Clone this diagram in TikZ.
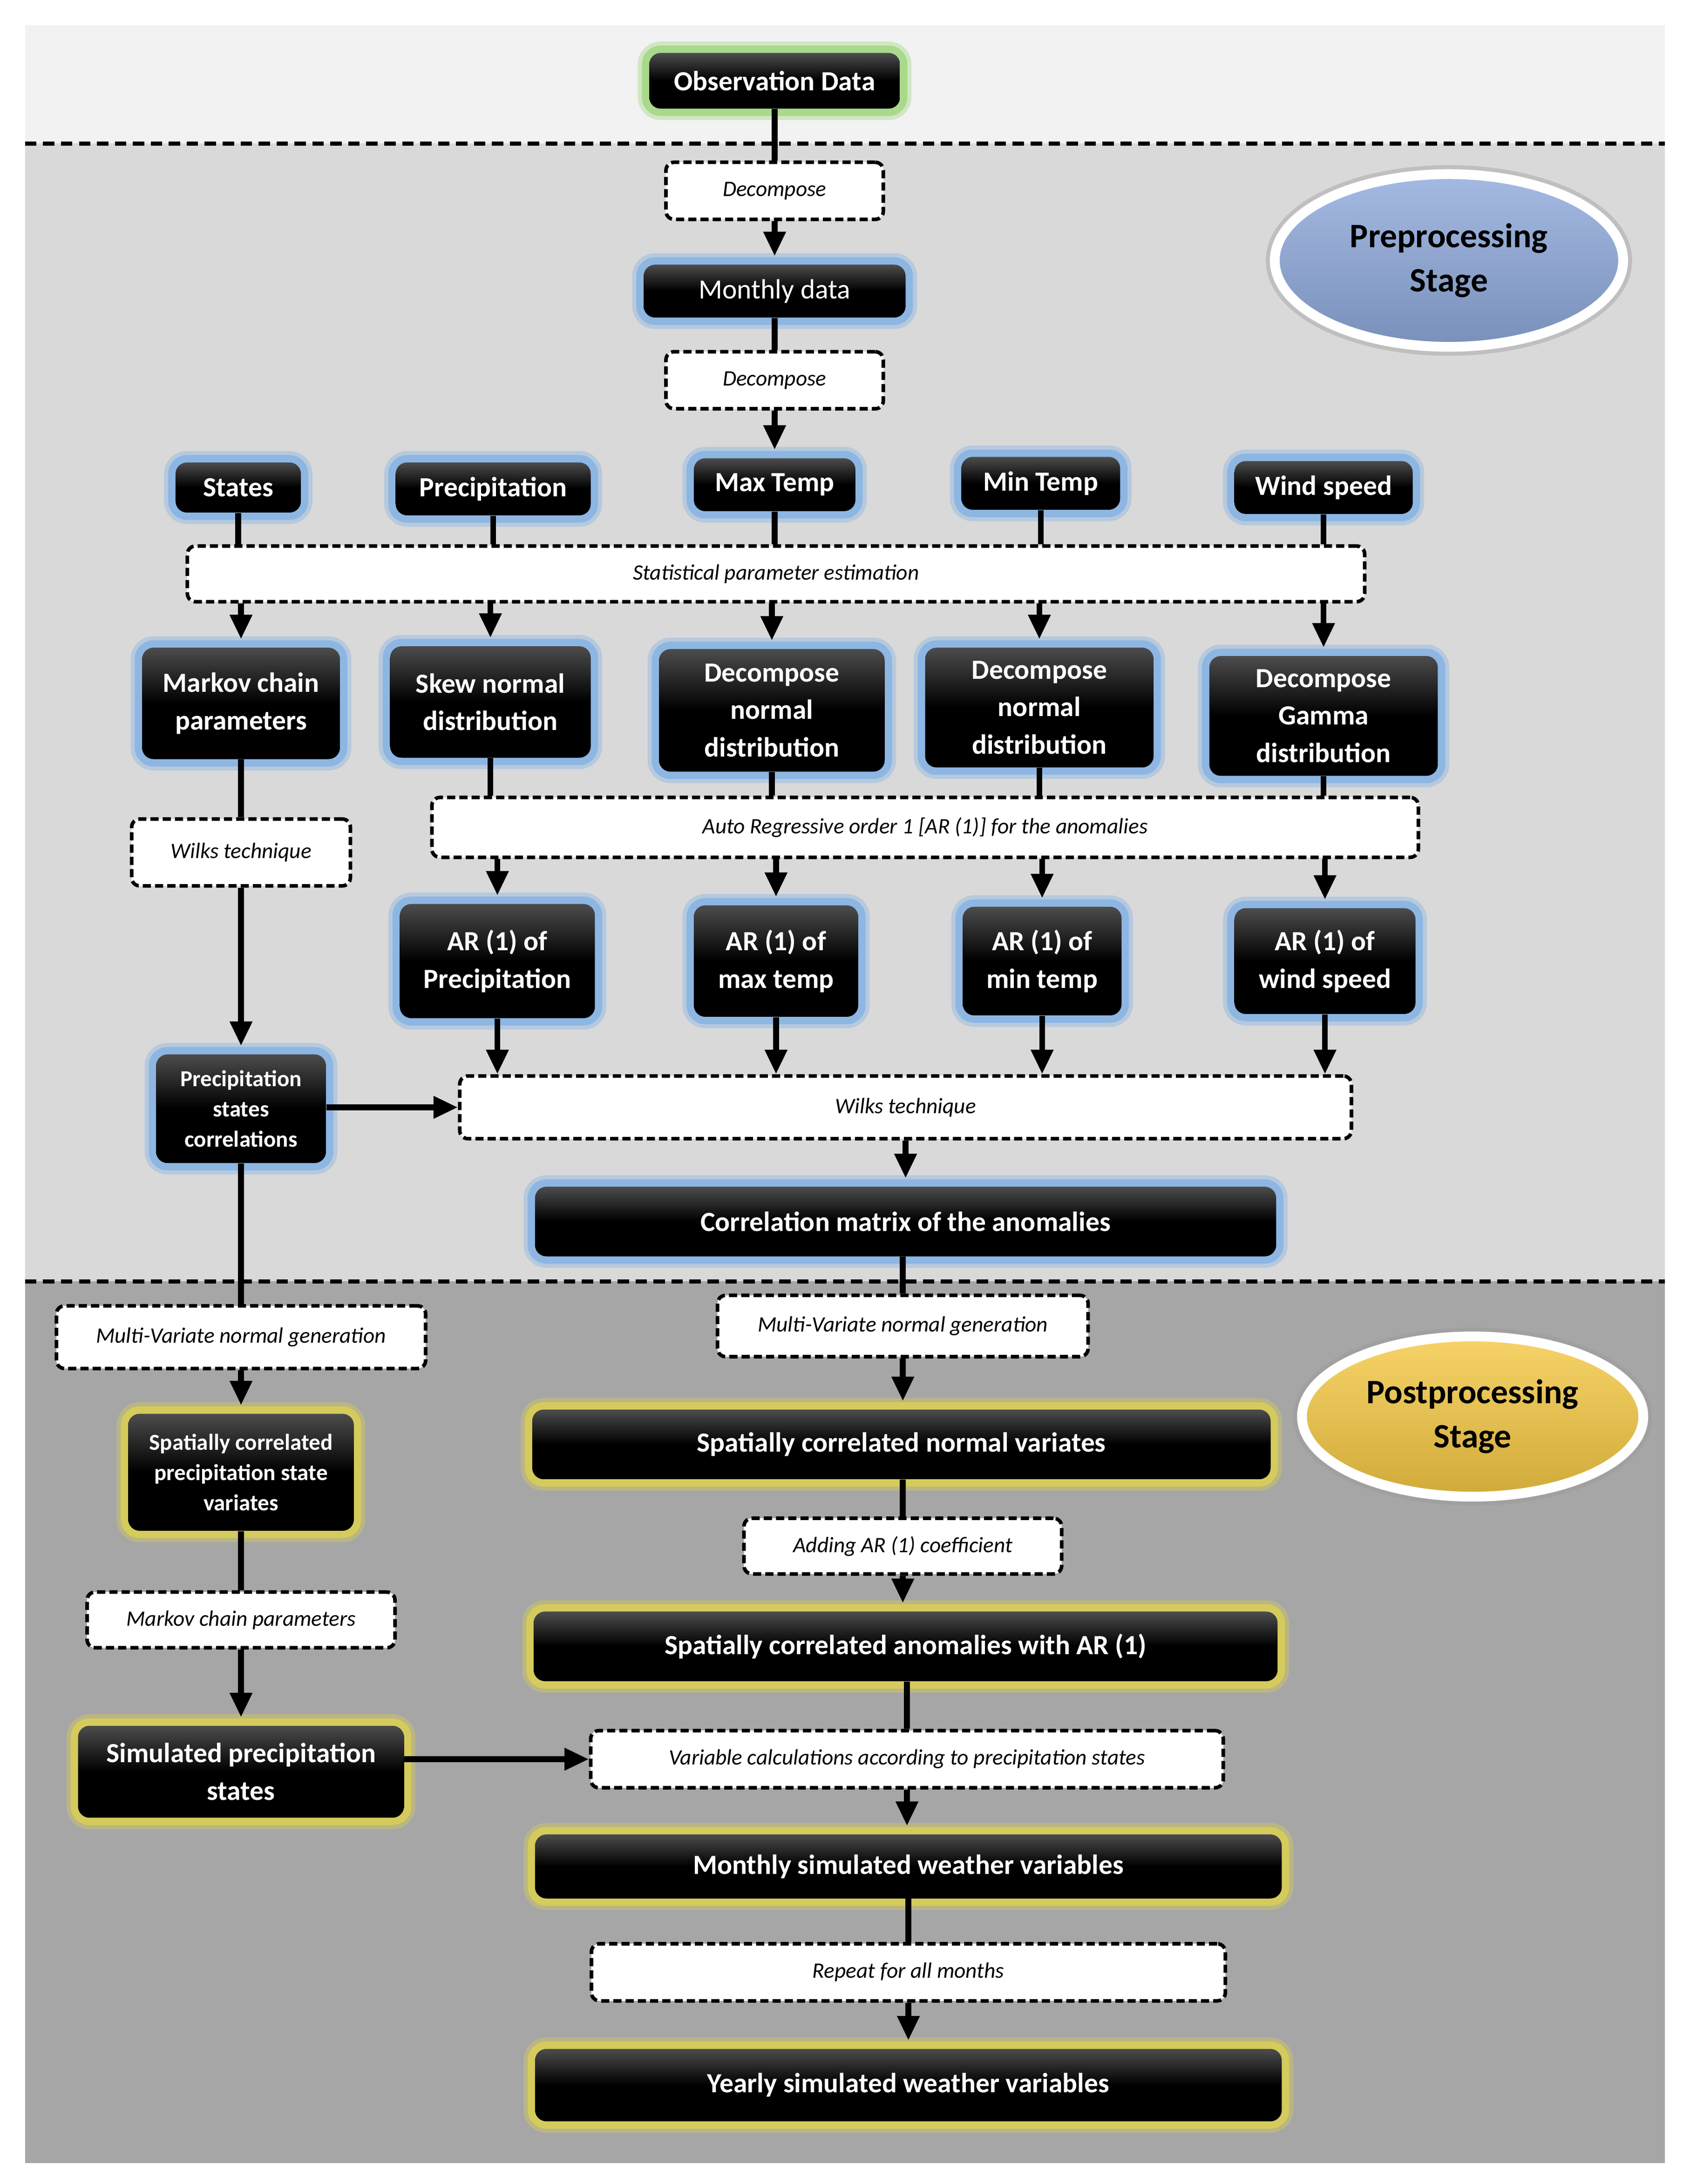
\documentclass[tikz,border=0pt]{standalone}
\usepackage{fontspec}
\setmainfont{Carlito}
\usetikzlibrary{arrows.meta,shapes.geometric}
\definecolor{halogreen}{HTML}{A9D98A}
\definecolor{haloblue}{HTML}{8DB6E3}
\definecolor{haloyellow}{HTML}{D4CB5C}
\definecolor{topband}{HTML}{F2F2F2}
\definecolor{preband}{HTML}{D9D9D9}
\definecolor{postband}{HTML}{A6A6A6}
\definecolor{prefill}{HTML}{8EA9DB}
\definecolor{postfill}{HTML}{F5C843}
\begin{document}
\begin{tikzpicture}[x=0.03cm, y=-0.03cm,
    halo/.style={preaction={draw=#1, line width=14pt, opacity=0.45}, preaction={draw=#1, line width=9pt}},
    datanode/.style={rectangle, rounded corners=7pt, inner sep=0pt, text=white, align=center,
        font=\fontsize{17}{23}\selectfont\bfseries, top color=black!70, bottom color=black, middle color=black},
    smalldata/.style={datanode, font=\fontsize{14}{18.5}\selectfont\bfseries},
    method/.style={rectangle, rounded corners=5pt, draw, fill=white, line width=2.2pt,
        dash pattern=on 5pt off 2.5pt, inner sep=0pt, font=\fontsize{13.5}{16}\selectfont\itshape},
    stageoval/.style={ellipse, draw=white, line width=6pt, inner sep=0pt, align=center,
        font=\fontsize{21}{27}\selectfont\bfseries, preaction={draw=black!40, line width=11pt, opacity=0.4}},
    link/.style={line width=3.6pt},
    flow/.style={line width=3.6pt, -{Triangle[length=15pt,width=13pt]}, shorten >=5pt}]
   \useasboundingbox (0,0) rectangle (1213,1568);
   \fill[white] (0,0) rectangle (1213,1568);
   \fill[topband] (18,18) rectangle (1195,103);
   \fill[preband] (18,103) rectangle (1195,920);
   \fill[postband] (18,920) rectangle (1195,1553);
   \draw[line width=2.6pt, dash pattern=on 7pt off 4pt] (18,103) -- (1195,103);
   \draw[line width=2.6pt, dash pattern=on 7pt off 4pt] (18,920) -- (1195,920);

   \node[stageoval, top color=prefill!80!white, bottom color=prefill!85!black, minimum width=7.5cm, minimum height=3.72cm] (pre) at (1040,187) {Preprocessing\\Stage};
   \node[stageoval, top color=postfill!80!white, bottom color=postfill!85!black, minimum width=7.35cm, minimum height=3.45cm] (post) at (1057,1017) {Postprocessing\\Stage};

   \node[datanode, halo=halogreen, minimum width=5.4cm, minimum height=1.2cm] (obs) at (556,58) {Observation Data};
   \node[method, minimum width=4.68cm, minimum height=1.23cm] (dec1) at (556,137) {Decompose};
   \node[datanode, halo=haloblue, font=\fontsize{17}{23}\selectfont, minimum width=5.64cm, minimum height=1.14cm] (monthly) at (556,209) {Monthly data};
   \node[method, minimum width=4.68cm, minimum height=1.23cm] (dec2) at (556,273) {Decompose};

   \node[datanode, halo=haloblue, minimum width=2.7cm, minimum height=1.08cm] (states) at (171,350) {States};
   \node[datanode, halo=haloblue, minimum width=4.2cm, minimum height=1.14cm] (precip) at (354,351) {Precipitation};
   \node[datanode, halo=haloblue, minimum width=3.48cm, minimum height=1.14cm] (maxt) at (556,348) {Max Temp};
   \node[datanode, halo=haloblue, minimum width=3.42cm, minimum height=1.14cm] (mint) at (747,347) {Min Temp};
   \node[datanode, halo=haloblue, minimum width=3.84cm, minimum height=1.14cm] (wind) at (950,350) {Wind speed};
   \node[method, minimum width=25.35cm, minimum height=1.2cm] (stat) at (557,412) {Statistical parameter estimation};

   \node[datanode, halo=haloblue, minimum width=4.26cm, minimum height=2.4cm] (markov) at (173,505) {Markov chain\\parameters};
   \node[datanode, halo=haloblue, minimum width=4.32cm, minimum height=2.4cm] (skew) at (352,504) {Skew normal\\distribution};
   \node[datanode, halo=haloblue, minimum width=4.86cm, minimum height=2.64cm] (decmax) at (554,510) {Decompose\\normal\\distribution};
   \node[datanode, halo=haloblue, minimum width=4.92cm, minimum height=2.58cm] (decmin) at (746,508) {Decompose\\normal\\distribution};
   \node[datanode, halo=haloblue, minimum width=4.92cm, minimum height=2.58cm] (gamma) at (950,514) {Decompose\\Gamma\\distribution};

   \node[method, minimum width=4.71cm, minimum height=1.44cm] (wilksL) at (173,612) {Wilks technique};
   \node[method, minimum width=21.24cm, minimum height=1.29cm] (autor) at (664,594) {Auto Regressive order 1 [AR (1)] for the anomalies};

   \node[datanode, halo=haloblue, minimum width=4.2cm, minimum height=2.46cm] (arp) at (357,690) {AR (1) of\\Precipitation};
   \node[datanode, halo=haloblue, minimum width=3.54cm, minimum height=2.4cm] (armax) at (557,690) {AR (1) of\\max temp};
   \node[datanode, halo=haloblue, minimum width=3.42cm, minimum height=2.34cm] (armin) at (748,690) {AR (1) of\\min temp};
   \node[datanode, halo=haloblue, minimum width=3.9cm, minimum height=2.28cm] (arwind) at (951,690) {AR (1) of\\wind speed};

   \node[smalldata, halo=haloblue, minimum width=3.66cm, minimum height=2.34cm] (psc) at (173,796) {Precipitation\\states\\correlations};
   \node[method, minimum width=19.2cm, minimum height=1.35cm] (wilksR) at (650,795) {Wilks technique};
   \node[datanode, halo=haloblue, minimum width=15.96cm, minimum height=1.5cm] (corr) at (650,877) {Correlation matrix of the anomalies};

   \node[method, minimum width=7.95cm, minimum height=1.35cm] (mvL) at (173,960) {Multi-Variate normal generation};
   \node[method, minimum width=7.98cm, minimum height=1.32cm] (mvR) at (648,952) {Multi-Variate normal generation};
   \node[smalldata, halo=haloyellow, minimum width=4.86cm, minimum height=2.52cm] (scpsv) at (173,1057) {Spatially correlated\\precipitation state\\variates};
   \node[datanode, halo=haloyellow, minimum width=15.9cm, minimum height=1.5cm] (scn) at (647,1037) {Spatially correlated normal variates};
   \node[method, minimum width=6.84cm, minimum height=1.2cm] (addar) at (648,1110) {Adding AR (1) coefficient};
   \node[method, minimum width=6.63cm, minimum height=1.2cm] (mcp) at (173,1163) {Markov chain parameters};
   \node[datanode, halo=haloyellow, minimum width=16.02cm, minimum height=1.5cm] (sca) at (650,1182) {Spatially correlated anomalies with AR (1)};
   \node[datanode, halo=haloyellow, minimum width=7.02cm, minimum height=1.98cm] (sps) at (173,1272) {Simulated precipitation\\states};
   \node[method, minimum width=13.62cm, minimum height=1.23cm] (varcalc) at (651,1263) {Variable calculations according to precipitation states};
   \node[datanode, halo=haloyellow, minimum width=16.08cm, minimum height=1.38cm] (msv) at (652,1340) {Monthly simulated weather variables};
   \node[method, minimum width=13.65cm, minimum height=1.23cm] (repeat) at (652,1416) {Repeat for all months};
   \node[datanode, halo=haloyellow, minimum width=16.08cm, minimum height=1.56cm] (ysv) at (652,1497) {Yearly simulated weather variables};

   \draw[link] (obs) -- (dec1);
   \draw[flow] (dec1) -- (monthly);
   \draw[link] (monthly) -- (dec2);
   \draw[flow] (dec2) -- (maxt);
   \foreach \n in {states,precip,maxt,mint,wind}
      \draw[link] (\n) -- (\n |- stat.north);
   \foreach \n in {markov,skew,decmax,decmin,gamma}
      \draw[flow] (stat.south -| \n) -- (\n);
   \draw[link] (markov) -- (wilksL);
   \draw[flow] (wilksL) -- (psc);
   \foreach \n in {skew,decmax,decmin,gamma}
      \draw[link] (\n) -- (\n |- autor.north);
   \foreach \n in {arp,armax,armin,arwind}
      \draw[flow] (autor.south -| \n) -- (\n);
   \foreach \n in {arp,armax,armin,arwind}
      \draw[flow, shorten >=0pt] (\n) -- (\n |- wilksR.north);
   \draw[flow, shorten >=0pt] (psc.east |- wilksR.west) -- (wilksR.west);
   \draw[flow] (wilksR) -- (wilksR |- corr.north);
   \draw[link] (psc) -- (mvL);
   \draw[flow] (mvL) -- (scpsv);
   \draw[link] (corr.south -| mvR) -- (mvR);
   \draw[flow] (mvR) -- (mvR |- scn.north);
   \draw[link] (scn.south -| addar) -- (addar);
   \draw[flow] (addar) -- (addar |- sca.north);
   \draw[link] (scpsv) -- (mcp);
   \draw[flow] (mcp) -- (sps);
   \draw[flow, shorten >=0pt] (sps.east |- varcalc.west) -- (varcalc.west);
   \draw[link] (sca.south -| varcalc) -- (varcalc);
   \draw[flow] (varcalc) -- (varcalc |- msv.north);
   \draw[link] (msv.south -| repeat) -- (repeat);
   \draw[flow] (repeat) -- (repeat |- ysv.north);
 \end{tikzpicture}
\end{document}
